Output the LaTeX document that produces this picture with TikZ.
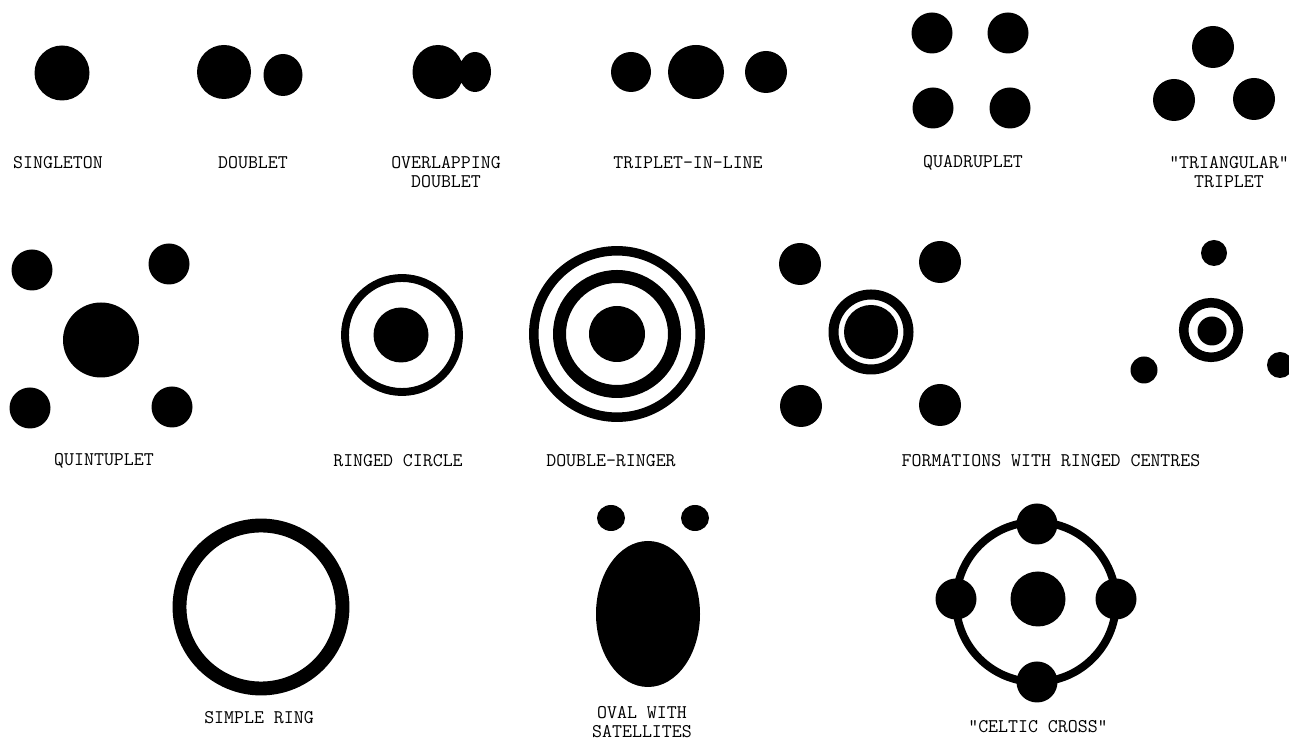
\documentclass[tikz,border=0pt]{standalone}
\begin{document}
\begin{tikzpicture}[x=0.02cm,y=-0.02cm,line join=round,line cap=round,
	font=\ttfamily\fontsize{11}{10.8}\selectfont,
	lbl/.style={inner sep=0pt,align=center}]
	\useasboundingbox (0,0) rectangle (1289,742);
	% first row
	\fill (62,73) circle(27.5);
	\fill (224,72) circle(27) (283,75) ellipse(19.5 and 21);
	\fill (438,72) ellipse(25.5 and 27) (475,72) ellipse(16 and 20);
	\fill (631,72) circle(20) (696,72) ellipse(28 and 27) (766,72) circle(21);
	\foreach \x/\y in {932/33,1008/33,933/108,1010/108}\fill (\x,\y) circle(20.5);
	\foreach \x/\y in {1213/47,1174/100,1254/99}\fill (\x,\y) circle(21);
	\node[lbl] (single) at (58,163) {SINGLETON};
	\node[lbl] (doub) at (253,163) {DOUBLET};
	\node[lbl] (overdoub) at (446,172.5) {OVERLAPPING\\DOUBLET};
	\node[lbl] (tripline) at (688,163) {TRIPLET-IN-LINE};
	\node[lbl] (quad) at (973,163) {QUADRUPLET};
	\node[lbl] (tritrip) at (1229,172.5) {"TRIANGULAR"\\TRIPLET};
	% second row
	\foreach \x/\y in {32/270,169/264,30/408,172/407}\fill (\x,\y) circle(20.5);
	\fill (101,340) ellipse(38 and 37.5);
	\draw[line width=4.5pt] (402,335) circle(57);
	\fill (401,335) circle(27.5);
	\draw[line width=5.4pt] (617,334) circle(83.2);
	\draw[line width=7.4pt] (617,334) circle(57.5);
	\fill (617,334) circle(28);
	\foreach \x/\y in {800/264,940/262,801/406,940/405}\fill (\x,\y) circle(21);
	\draw[line width=5.7pt] (871,332) circle(37.5);
	\fill (871,332) circle(27);
	\foreach \x/\y/\r in {1214/253/13,1144/370/13.5,1280/365/13}\fill (\x,\y) circle(\r);
	\draw[line width=5.4pt] (1211,330) circle(27.3);
	\fill (1212,331) circle(14.5);
	\node[lbl] (quint) at (104,461) {QUINTUPLET};
	\node[lbl] (ringcirc) at (398,461) {RINGED CIRCLE};
	\node[lbl] (dbring) at (611,461) {DOUBLE-RINGER};
	\node[lbl] (formring) at (1051,461) {FORMATIONS WITH RINGED CENTRES};
	% third row
	\draw[line width=7.9pt] (261,607) circle(81.5);
	\fill (611,518) ellipse(14 and 13) (695,518) ellipse(14 and 13);
	\fill (648,614) ellipse(52 and 73);
	\draw[line width=4.5pt] (1036,602) circle(80);
	\foreach \x/\y in {1037/524,1037/682,956/599,1116/599}\fill (\x,\y) circle(20.5);
	\fill (1038,599) circle(27.5);
	\node[lbl] (simring) at (259,718) {SIMPLE RING};
	\node[lbl] (ovalsat) at (642,722) {OVAL WITH\\SATELLITES};
	\node[lbl] (celtic) at (1038,727) {"CELTIC CROSS"};
\end{tikzpicture}
\end{document}
